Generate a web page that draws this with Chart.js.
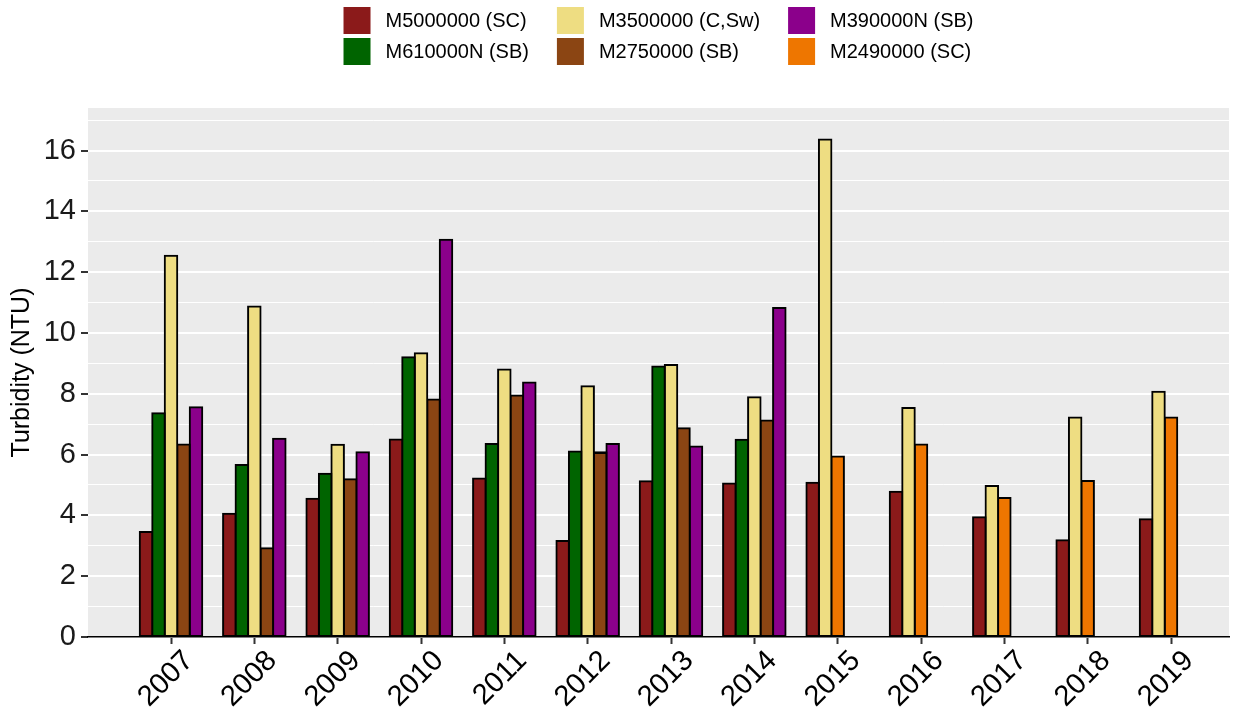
<!DOCTYPE html>
<html>
<head>
<meta charset="utf-8">
<script src="https://cdn.jsdelivr.net/npm/chart.js@4.4.1/dist/chart.umd.min.js"></script>
<style>
  html, body { margin: 0; padding: 0; background: #ffffff; }
  #wrap { width: 1233px; height: 715px; }
</style>
</head>
<body>
<div id="wrap"><canvas id="chart" width="1233" height="715"></canvas></div>
<script>
// Annual mean turbidity by monitoring station
const years = [2007, 2008, 2009, 2010, 2011, 2012, 2013, 2014, 2015, 2016, 2017, 2018, 2019];
const yearLabels = years.map(String);

const seriesNames = ['M5000000 (SC)', 'M610000N (SB)', 'M3500000 (C,Sw)', 'M2750000 (SB)', 'M390000N (SB)', 'M2490000 (SC)'];
const seriesColors = ['#8B1A1A', '#006400', '#EEDD82', '#8B4513', '#8B008B', '#EE7600'];
// stations sharing a dodge position within a year (M2750000 / M2490000)
const dodgeGroup = [0, 1, 2, 3, 4, 3];

const m5000000 = [3.45, 4.05, 4.55, 6.50, 5.21, 3.16, 5.12, 5.05, 5.07, 4.78, 3.94, 3.18, 3.87];
const m610000n = [7.36, 5.66, 5.37, 9.20, 6.35, 6.10, 8.90, 6.49, null, null, null, null, null];
const m3500000 = [12.54, 10.87, 6.32, 9.33, 8.80, 8.25, 8.95, 7.89, 16.36, 7.53, 4.97, 7.22, 8.07];
const m2750000 = [6.33, 2.92, 5.19, 7.81, 7.94, 6.05, 6.87, 7.12, null, null, null, null, null];
const m390000n = [7.56, 6.52, 6.08, 13.07, 8.37, 6.35, 6.27, 10.82, null, null, null, null, null];
const m2490000 = [null, null, null, null, null, 6.08, null, null, 5.94, 6.33, 4.57, 5.13, 7.22];

const seriesValues = [m5000000, m610000n, m3500000, m2750000, m390000n, m2490000];

const FONT = '"Liberation Sans", Arial, Helvetica, sans-serif';

// Dodge: within each year the stations present take consecutive positions
function slotOf(s, i) {
  const groups = [];
  seriesValues.forEach((vals, k) => {
    if (vals[i] !== null && groups.indexOf(dodgeGroup[k]) === -1) groups.push(dodgeGroup[k]);
  });
  groups.sort((a, b) => a - b);
  return groups.indexOf(dodgeGroup[s]);
}

const pieces = [];
seriesValues.forEach((vals, s) => {
  const bySlot = {};
  vals.forEach((v, i) => {
    if (v === null) return;
    const k = slotOf(s, i);
    (bySlot[k] = bySlot[k] || []).push({ x: years[i], y: v });
  });
  Object.keys(bySlot).forEach(k => pieces.push({ s, slot: +k, data: bySlot[k] }));
});
pieces.sort((a, b) => a.slot - b.slot || a.s - b.s);

const datasets = pieces.map(p => ({
  label: seriesNames[p.s],
  data: p.data,
  stack: 'slot' + p.slot,
  backgroundColor: seriesColors[p.s],
  borderColor: '#000000',
  borderWidth: 2,
  borderSkipped: false,
  inflateAmount: 1,
  categoryPercentage: 0.75,
  barPercentage: 1.0
}));

const panelBackground = {
  id: 'panelBackground',
  beforeDraw(chart) {
    const { ctx, chartArea: a } = chart;
    ctx.save();
    ctx.fillStyle = '#ffffff';
    ctx.fillRect(0, 0, chart.width, chart.height);
    ctx.fillStyle = '#EBEBEB';
    ctx.fillRect(a.left, a.top, a.right - a.left, a.bottom - a.top);
    ctx.restore();
  }
};

// Legend laid out in two rows, filled column by column
const gridLegend = {
  id: 'gridLegend',
  afterDraw(chart) {
    const { ctx, chartArea: a } = chart;
    const key = 27, gap = 15, colGap = 28, rowStep = 31, top = 7, nRows = 2;
    ctx.save();
    ctx.font = '20px ' + FONT;
    const nCols = Math.ceil(seriesNames.length / nRows);
    const colW = [];
    for (let c = 0; c < nCols; c++) {
      let w = 0;
      for (let r = 0; r < nRows; r++) {
        const s = c * nRows + r;
        if (s < seriesNames.length) w = Math.max(w, ctx.measureText(seriesNames[s]).width);
      }
      colW.push(key + gap + w);
    }
    const total = colW.reduce((p, q) => p + q, 0) + colGap * (nCols - 1);
    let x = (a.left + a.right) / 2 - total / 2;
    ctx.textBaseline = 'middle';
    ctx.textAlign = 'left';
    for (let c = 0; c < nCols; c++) {
      for (let r = 0; r < nRows; r++) {
        const s = c * nRows + r;
        if (s >= seriesNames.length) continue;
        const y = top + r * rowStep;
        ctx.fillStyle = seriesColors[s];
        ctx.fillRect(x, y, key, key);
        ctx.fillStyle = '#000000';
        ctx.fillText(seriesNames[s], x + key + gap, y + key / 2 + 1);
      }
      x += colW[c] + colGap;
    }
    ctx.restore();
  }
};

new Chart(document.getElementById('chart'), {
  type: 'bar',
  data: { datasets },
  options: {
    responsive: false,
    animation: false,
    devicePixelRatio: 1,
    layout: { padding: { top: 108, right: 4, left: 0, bottom: 0 } },
    plugins: { legend: { display: false }, tooltip: { enabled: false } },
    scales: {
      x: {
        type: 'linear',
        min: 2006.004,
        max: 2019.696,
        offset: false,
        ticks: {
          stepSize: 1,
          includeBounds: false,
          autoSkip: false,
          minRotation: 45,
          maxRotation: 45,
          color: '#000000',
          font: { size: 29, family: FONT },
          padding: 0,
          labelOffset: 18,
          callback: (v) => { const i = years.indexOf(v); return i === -1 ? '' : yearLabels[i]; }
        },
        grid: { offset: false, drawOnChartArea: false, drawTicks: true, tickLength: 7, tickColor: '#333333', tickWidth: 2 },
        border: { display: true, color: '#000000', width: 1.5 },
        afterFit: (s) => { s.height = 78; }
      },
      y: {
        min: 0,
        max: 17.4,
        stacked: false,
        ticks: {
          stepSize: 1,
          includeBounds: false,
          autoSkip: false,
          color: '#1a1a1a',
          font: { size: 29, family: FONT },
          padding: 5,
          callback: (v) => (v % 2 === 0 ? String(v) : '')
        },
        grid: {
          color: '#ffffff',
          lineWidth: (c) => (c.tick && c.tick.value % 2 === 0 ? 2 : 1),
          tickLength: 7,
          tickWidth: 2,
          tickColor: (c) => (c.tick && c.tick.value % 2 === 0 ? '#333333' : 'rgba(0,0,0,0)')
        },
        border: { display: false },
        title: {
          display: true,
          text: 'Turbidity (NTU)',
          color: '#000000',
          font: { size: 25, family: FONT },
          padding: { top: 7, bottom: 0 }
        },
        afterFit: (s) => { s.width = 88; }
      }
    }
  },
  plugins: [panelBackground, gridLegend]
});
</script>
</body>
</html>
